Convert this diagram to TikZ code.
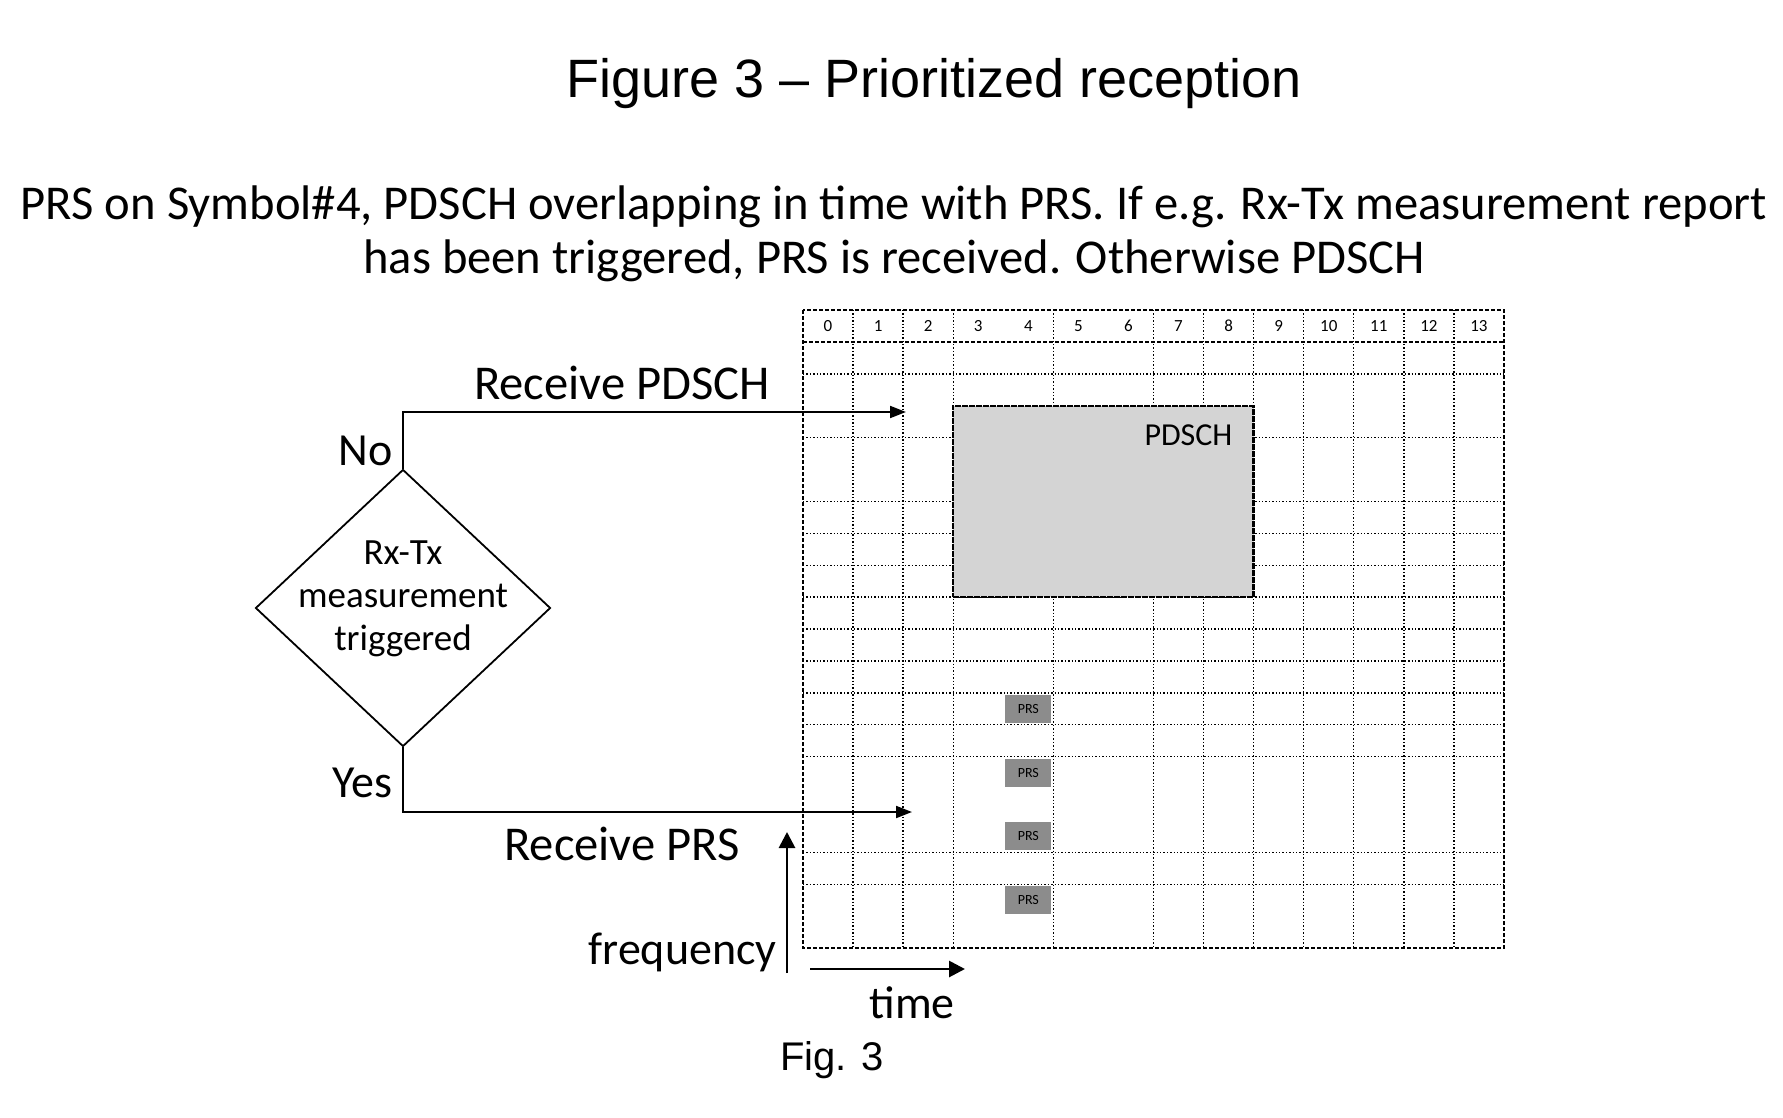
\documentclass[tikz,border=0pt]{standalone}
\usepackage{fontspec}
\setmainfont{Carlito}
\newfontfamily\arialfont{Liberation Sans}
\usetikzlibrary{shapes,arrows.meta,positioning,calc,fit}

\begin{document}
\begin{tikzpicture}[x=0.5pt, y=-0.5pt,
    lbl/.style={inner sep=0pt, font=\fontsize{23}{27}\selectfont},
    biglbl/.style={inner sep=0pt, font=\fontsize{24.3}{28}\selectfont},
    decision/.style={draw, diamond, line width=0.9pt, inner sep=0pt, minimum width=147.5pt, minimum height=138.5pt},
    flow/.style={-{Triangle[length=8pt,width=6pt]}, line width=1pt},
    axis/.style={-{Triangle[length=8pt,width=8pt]}, line width=1.4pt},
    gridline/.style={densely dotted, line width=0.7pt},
    gridframe/.style={dash pattern=on 2pt off 1pt, line width=1.2pt},
    pdschbox/.style={draw, dash pattern=on 3pt off 0.5pt, line width=1.2pt, fill=black!17, inner sep=0pt},
    prsbox/.style={fill=black!45, inner sep=0pt, minimum width=23pt, minimum height=14pt, font=\fontsize{7}{7}\selectfont}]
  \useasboundingbox (0,0) rectangle (1783,1118);

  % headings
  \node[font=\arialfont\fontsize{27}{31}\selectfont, anchor=base] (title) at (934,98) {Figure 3 – Prioritized reception};
  \node[biglbl, anchor=base] (sub1) at (894,220) {PRS on Symbol\#4, PDSCH overlapping in time with PRS. If e.g. Rx-Tx measurement report};
  \node[biglbl, anchor=base] (sub2) at (894,274) {has been triggered, PRS is received. Otherwise PDSCH};

  % resource grid
  \begin{scope}[shift={(803,310)}, x=25.035pt, y=-15.95pt]
    \foreach \i in {1,2,3,5,7,8,9,10,11,12,13}
      \draw[gridline] (\i,0) -- (\i,20);
    \foreach \j in {2,4,6,7,8,9,10,11,12,13,14,17,18}
      \draw[gridline] (0,\j) -- (14,\j);
    \foreach \i in {0,...,13}
      \node[font=\fontsize{8.5}{9}\selectfont] (h\i) at (\i+0.5,0.5) {\i};
    \draw[gridframe] (0,0) rectangle (14,20);
    \draw[gridframe] (0,1) -- (14,1);
    \node[pdschbox, fit={(3,3) (9,9)}] (pdsch) {};
    \foreach \j in {12,14,16,18}
      \node[prsbox] (prs\j) at (4.5,\j+0.5) {PRS};
  \end{scope}
  \node[inner sep=0pt, font=\fontsize{16}{16}\selectfont, below left=10pt and 11pt of pdsch.north east] (pdschlbl) {PDSCH};

  % decision
  \node[decision] (dia) at (403,608) {};
  \node[align=center, inner sep=0pt, font=\fontsize{18.5}{21.5}\selectfont] (diatext) at (403,599) {Rx-Tx\\measurement\\triggered};
  \node[lbl, above left=1pt and 5pt of dia.north] (no) {No};
  \node[lbl, below left=10pt and 5pt of dia.south] (yes) {Yes};

  \coordinate (pdschin) at (906,412);
  \coordinate (prsin) at (912,812);
  \draw[flow] (dia.north) |- (pdschin);
  \draw[flow] (dia.south) |- (prsin);
  \node[biglbl] (rxpdsch) at (622,383) {Receive PDSCH};
  \node[biglbl] (rxprs) at (622,844) {Receive PRS};

  % axes
  \coordinate (f0) at (787,973);
  \coordinate (f1) at (787,832);
  \coordinate (t0) at (810,969);
  \coordinate (t1) at (965,969);
  \draw[axis] (f0) -- (f1);
  \draw[axis] (t0) -- (t1);
  \node[lbl, anchor=base east] (freq) at (777,964) {frequency};
  \node[lbl, anchor=base] (time) at (912,1018) {time};
  \node[font=\arialfont\fontsize{20}{24}\selectfont, anchor=base] (fig) at (832,1070) {Fig. 3};
\end{tikzpicture}
\end{document}
